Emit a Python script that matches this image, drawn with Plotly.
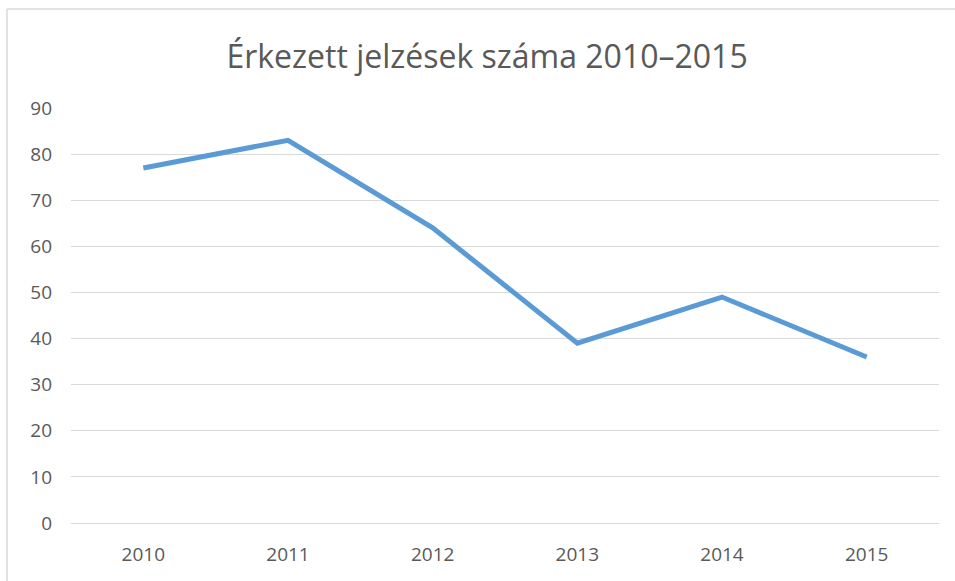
import plotly.graph_objects as go

years = ["2010", "2011", "2012", "2013", "2014", "2015"]
values = [77, 83, 64, 39, 49, 36]
y_ticks = [0, 10, 20, 30, 40, 50, 60, 70, 80, 90]
title_text = "Érkezett jelzések száma 2010–2015"

W, H = 955, 581
L, R, T, B = 71, 16, 108, 58
pw, ph = W - L - R, H - T - B

def px_to_paper_x(px):
    return (px - L) / pw

def px_to_paper_y(py):
    return (H - B - py) / ph

fig = go.Figure()
fig.add_trace(go.Scatter(
    x=years, y=values, mode="lines",
    line=dict(color="#5B9BD5", width=5, shape="linear"),
    hoverinfo="x+y",
))

border = "#D9D9D9"
fig.update_layout(
    width=W, height=H,
    margin=dict(l=L, r=R, t=T, b=B),
    paper_bgcolor="white", plot_bgcolor="white",
    showlegend=False,
    title=dict(text=title_text, x=0.51, xanchor="center", y=1 - 57 / H, yanchor="middle",
               font=dict(family="Open Sans", size=32, color="#595959")),
    font=dict(family="Open Sans", color="#595959"),
    xaxis=dict(type="category", range=[-0.5, 5.5], showgrid=False, zeroline=False,
               showline=False, ticks="", tickfont=dict(size=19, color="#595959"),
               ticklabelstandoff=18),
    yaxis=dict(range=[0, 90], tickvals=y_ticks, showgrid=True, gridcolor="#D9D9D9",
               gridwidth=1.3, zeroline=True, zerolinecolor="#D9D9D9", zerolinewidth=1.3,
               showline=False, ticks="",
               tickfont=dict(size=19, color="#595959"), ticklabelstandoff=18),
    shapes=[
        dict(type="line", xref="paper", yref="paper",
             x0=px_to_paper_x(7), x1=px_to_paper_x(W),
             y0=px_to_paper_y(9), y1=px_to_paper_y(9),
             line=dict(color=border, width=1.5), layer="below"),
        dict(type="line", xref="paper", yref="paper",
             x0=px_to_paper_x(7), x1=px_to_paper_x(7),
             y0=px_to_paper_y(9), y1=px_to_paper_y(H),
             line=dict(color=border, width=1.5), layer="below"),
    ],
)

fig.write_html(
    "out.html", config={"displayModeBar": False},
    post_script=(
        "document.documentElement.style.margin='0';"
        "document.documentElement.style.overflow='hidden';"
        "document.body.style.margin='0';document.body.style.overflow='hidden';"
    ),
)
